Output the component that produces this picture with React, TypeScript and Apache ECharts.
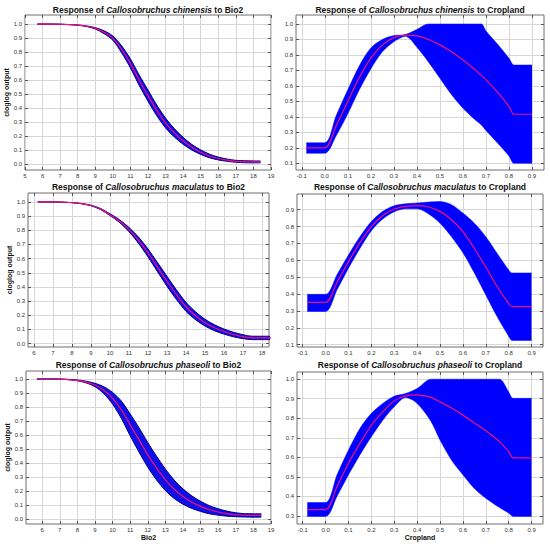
import React, { useEffect, useRef } from "react";
import * as echarts from "echarts";

// ---------- tick labels ----------
const bio2TicksA = [5, 6, 7, 8, 9, 10, 11, 12, 13, 14, 15, 16, 17, 18, 19];
const bio2TicksB = [6, 7, 8, 9, 10, 11, 12, 13, 14, 15, 16, 17, 18, 19];
const bio2TicksC = [6, 7, 8, 9, 10, 11, 12, 13, 14, 15, 16, 17, 18, 19];
const cropTicks = [-0.1, 0.0, 0.1, 0.2, 0.3, 0.4, 0.5, 0.6, 0.7, 0.8, 0.9];
const yTicksFull = [0.0, 0.1, 0.2, 0.3, 0.4, 0.5, 0.6, 0.7, 0.8, 0.9, 1.0];
const yTicksChinCrop = [0.1, 0.2, 0.3, 0.4, 0.5, 0.6, 0.7, 0.8, 0.9, 1.0];
const yTicksMacCrop = [0.1, 0.2, 0.3, 0.4, 0.5, 0.6, 0.7, 0.8, 0.9];
const yTicksPhaCrop = [0.3, 0.4, 0.5, 0.6, 0.7, 0.8, 0.9, 1.0];

// ---------- species / variables ----------
const species = ["Callosobruchus chinensis", "Callosobruchus maculatus", "Callosobruchus phaseoli"];
const variables = ["Bio2", "Cropland"];

// ---------- C. chinensis, Bio2 ----------
const chinBio2X = [5.7, 6, 6.5, 7, 7.5, 8, 8.5, 9, 9.5, 10, 10.5, 11, 11.5, 12, 12.5, 13, 13.5, 14, 14.5, 15, 15.5, 16, 16.5, 17, 17.5, 18, 18.4];
const chinBio2Mean = [1.0, 1.0, 1.0, 0.999, 0.997, 0.993, 0.985, 0.97, 0.942, 0.9, 0.82, 0.72, 0.6, 0.49, 0.385, 0.295, 0.225, 0.168, 0.122, 0.087, 0.06, 0.042, 0.03, 0.022, 0.019, 0.018, 0.018];
const chinBio2Low = [1.0, 1.0, 1.0, 0.999, 0.997, 0.992, 0.983, 0.965, 0.932, 0.885, 0.795, 0.688, 0.563, 0.45, 0.347, 0.26, 0.195, 0.143, 0.102, 0.071, 0.047, 0.032, 0.022, 0.015, 0.012, 0.011, 0.011];
const chinBio2Up = [1.0, 1.0, 1.0, 0.999, 0.997, 0.994, 0.987, 0.975, 0.952, 0.915, 0.845, 0.752, 0.637, 0.53, 0.423, 0.33, 0.255, 0.193, 0.142, 0.103, 0.073, 0.052, 0.038, 0.029, 0.026, 0.025, 0.025];

// ---------- C. chinensis, Cropland ----------
const chinCropX = [-0.08, 0, 0.05, 0.1, 0.15, 0.2, 0.25, 0.3, 0.35, 0.4, 0.45, 0.5, 0.55, 0.6, 0.65, 0.68, 0.7, 0.75, 0.8, 0.822, 0.9];
const chinCropMean = [0.2, 0.2, 0.345, 0.5, 0.655, 0.78, 0.865, 0.912, 0.928, 0.923, 0.9, 0.865, 0.82, 0.768, 0.708, 0.668, 0.639, 0.56, 0.468, 0.417, 0.417];
const chinCropLow = [0.165, 0.165, 0.28, 0.42, 0.575, 0.71, 0.82, 0.885, 0.92, 0.85, 0.755, 0.65, 0.545, 0.456, 0.385, 0.348, 0.312, 0.232, 0.148, 0.1, 0.1];
const chinCropUp = [0.233, 0.233, 0.41, 0.575, 0.73, 0.845, 0.9, 0.925, 0.932, 0.965, 1.0, 1.0, 1.0, 1.0, 1.0, 1.0, 0.955, 0.87, 0.778, 0.735, 0.735];

// ---------- C. maculatus, Bio2 ----------
const macBio2X = [6.2, 6.5, 7, 7.5, 8, 8.5, 9, 9.5, 10, 10.5, 11, 11.5, 12, 12.5, 13, 13.5, 14, 14.5, 15, 15.5, 16, 16.5, 17, 17.5, 18, 18.5];
const macBio2Mean = [1.0, 1.0, 1.0, 0.998, 0.995, 0.988, 0.975, 0.95, 0.91, 0.865, 0.805, 0.73, 0.64, 0.54, 0.44, 0.345, 0.26, 0.197, 0.148, 0.112, 0.085, 0.064, 0.049, 0.04, 0.04, 0.04];
const macBio2Low = [1.0, 1.0, 1.0, 0.998, 0.995, 0.987, 0.973, 0.946, 0.904, 0.855, 0.79, 0.708, 0.612, 0.508, 0.405, 0.311, 0.228, 0.169, 0.124, 0.091, 0.067, 0.048, 0.035, 0.028, 0.028, 0.028];
const macBio2Up = [1.0, 1.0, 1.0, 0.998, 0.995, 0.989, 0.977, 0.954, 0.916, 0.875, 0.82, 0.752, 0.668, 0.572, 0.475, 0.379, 0.292, 0.225, 0.172, 0.133, 0.103, 0.08, 0.063, 0.052, 0.052, 0.052];

// ---------- C. maculatus, Cropland ----------
const macCropX = [-0.08, 0, 0.05, 0.1, 0.15, 0.2, 0.25, 0.3, 0.35, 0.4, 0.45, 0.5, 0.55, 0.6, 0.65, 0.7, 0.75, 0.8, 0.815, 0.9];
const macCropMean = [0.35, 0.35, 0.47, 0.592, 0.705, 0.8, 0.865, 0.904, 0.92, 0.924, 0.916, 0.89, 0.84, 0.77, 0.67, 0.56, 0.443, 0.344, 0.325, 0.325];
const macCropLow = [0.297, 0.297, 0.425, 0.553, 0.67, 0.775, 0.845, 0.888, 0.905, 0.905, 0.875, 0.82, 0.74, 0.645, 0.525, 0.395, 0.265, 0.15, 0.125, 0.125];
const macCropUp = [0.398, 0.398, 0.515, 0.632, 0.74, 0.83, 0.89, 0.924, 0.935, 0.94, 0.945, 0.948, 0.93, 0.88, 0.82, 0.74, 0.64, 0.543, 0.525, 0.525];

// ---------- C. phaseoli, Bio2 ----------
const phaBio2X = [5.7, 6, 6.5, 7, 7.5, 8, 8.5, 9, 9.5, 10, 10.5, 11, 11.5, 12, 12.5, 13, 13.5, 14, 14.5, 15, 15.5, 16, 16.5, 17, 17.5, 18, 18.45];
const phaBio2Mean = [1.0, 1.0, 1.0, 0.999, 0.996, 0.99, 0.978, 0.957, 0.92, 0.862, 0.78, 0.672, 0.565, 0.458, 0.363, 0.28, 0.212, 0.16, 0.12, 0.09, 0.066, 0.05, 0.038, 0.03, 0.026, 0.025, 0.025];
const phaBio2Low = [1.0, 1.0, 1.0, 0.999, 0.995, 0.987, 0.972, 0.945, 0.895, 0.82, 0.718, 0.594, 0.478, 0.37, 0.278, 0.203, 0.146, 0.105, 0.075, 0.054, 0.037, 0.027, 0.02, 0.016, 0.014, 0.013, 0.013];
const phaBio2Up = [1.0, 1.0, 1.0, 0.999, 0.997, 0.993, 0.984, 0.969, 0.945, 0.904, 0.842, 0.75, 0.652, 0.546, 0.448, 0.357, 0.278, 0.215, 0.165, 0.126, 0.095, 0.073, 0.056, 0.044, 0.038, 0.037, 0.037];

// ---------- C. phaseoli, Cropland ----------
const phaCropX = [-0.08, 0, 0.05, 0.1, 0.15, 0.2, 0.25, 0.3, 0.35, 0.4, 0.46, 0.5, 0.55, 0.6, 0.65, 0.7, 0.76, 0.8, 0.82, 0.9];
const phaCropMean = [0.332, 0.332, 0.45, 0.569, 0.671, 0.765, 0.833, 0.889, 0.915, 0.92, 0.907, 0.884, 0.852, 0.816, 0.776, 0.736, 0.68, 0.629, 0.597, 0.597];
const phaCropLow = [0.297, 0.297, 0.4, 0.51, 0.612, 0.705, 0.79, 0.859, 0.906, 0.876, 0.785, 0.688, 0.586, 0.51, 0.44, 0.39, 0.342, 0.314, 0.297, 0.297];
const phaCropUp = [0.368, 0.368, 0.51, 0.637, 0.748, 0.825, 0.876, 0.913, 0.927, 0.952, 1.0, 1.0, 1.0, 1.0, 1.0, 1.0, 1.0, 0.935, 0.902, 0.902];

// ---------- panels (data references + layout) ----------
const panels = [
  { sp: 0, v: 0, x: chinBio2X, mean: chinBio2Mean, low: chinBio2Low, up: chinBio2Up, xt: bio2TicksA, yt: yTicksFull,
    box: [25, 15, 246, 155], xr: [5, 19], yr: [-0.04, 1.065] },
  { sp: 0, v: 1, x: chinCropX, mean: chinCropMean, low: chinCropLow, up: chinCropUp, xt: cropTicks, yt: yTicksChinCrop,
    box: [296, 15, 248, 155], xr: [-0.125, 0.952], yr: [0.057, 1.058] },
  { sp: 1, v: 0, x: macBio2X, mean: macBio2Mean, low: macBio2Low, up: macBio2Up, xt: bio2TicksB, yt: yTicksFull,
    box: [28, 193, 241, 154], xr: [5.685, 18.37], yr: [-0.024, 1.063] },
  { sp: 1, v: 1, x: macCropX, mean: macCropMean, low: macCropLow, up: macCropUp, xt: cropTicks, yt: yTicksMacCrop,
    box: [297, 194, 246, 153], xr: [-0.125, 0.95], yr: [0.086, 0.993] },
  { sp: 2, v: 0, x: phaBio2X, mean: phaBio2Mean, low: phaBio2Low, up: phaBio2Up, xt: bio2TicksC, yt: yTicksFull,
    box: [26, 371, 245, 153], xr: [5.08, 19], yr: [-0.036, 1.057] },
  { sp: 2, v: 1, x: phaCropX, mean: phaCropMean, low: phaCropLow, up: phaCropUp, xt: cropTicks, yt: yTicksPhaCrop,
    box: [297, 372, 246, 152], xr: [-0.125, 0.95], yr: [0.258, 1.037] },
];

const titleTops = [5, 182, 360];
const FONT = "'Liberation Sans', Arial, Helvetica, sans-serif";
const LINE_COLOR = "#f0107a";
const TICK_COLOR = "#555";

function buildOption() {
  const grid: any[] = [];
  const xAxis: any[] = [];
  const yAxis: any[] = [];
  const series: any[] = [];
  const title: any[] = [];
  const n = panels.length;

  panels.forEach((p, i) => {
    const [left, top, width, height] = p.box;
    const isBio = p.v === 0;
    const isBottom = p.sp === 2;
    grid.push({ left, top, width, height, show: true, borderColor: "#6e6e6e", borderWidth: 1, backgroundColor: "#fff" });

    title.push({
      text: `{a|Response of }{b|${species[p.sp]}}{a| to ${variables[p.v]}}`,
      left: left + width / 2,
      top: titleTops[p.sp],
      textAlign: "center",
      padding: 0,
      textStyle: {
        rich: {
          a: { fontSize: 8.5, fontWeight: "bold", fontFamily: FONT, color: "#111" },
          b: { fontSize: 8.5, fontWeight: "bold", fontStyle: "italic", fontFamily: FONT, color: "#111" },
        },
      },
    });

    const tickX = { show: true, inside: true, length: 3, customValues: p.xt, lineStyle: { color: TICK_COLOR } };
    const tickY = { show: true, inside: true, length: 3, customValues: p.yt, lineStyle: { color: TICK_COLOR } };

    xAxis[i] = {
      type: "value",
      gridIndex: i,
      position: "bottom",
      min: p.xr[0],
      max: p.xr[1],
      axisLine: { show: false, onZero: false },
      axisTick: tickX,
      axisLabel: {
        customValues: p.xt,
        fontSize: 6,
        fontFamily: FONT,
        color: "#333",
        margin: 3,
        formatter: (v: number) => (isBio ? String(Math.round(v)) : v.toFixed(1)),
      },
      splitLine: { show: true, lineStyle: { color: "#d6d6d6", width: 1 } },
      name: isBottom ? variables[p.v] : "",
      nameLocation: "middle",
      nameGap: 10,
      nameTextStyle: { fontSize: 7, fontWeight: "bold", fontFamily: FONT, color: "#111" },
    };
    // top frame ticks
    xAxis[n + i] = {
      type: "value",
      gridIndex: i,
      position: "top",
      min: p.xr[0],
      max: p.xr[1],
      axisLine: { show: false, onZero: false },
      axisTick: tickX,
      axisLabel: { show: false },
      splitLine: { show: false },
    };

    yAxis[i] = {
      type: "value",
      gridIndex: i,
      position: "left",
      min: p.yr[0],
      max: p.yr[1],
      axisLine: { show: false, onZero: false },
      axisTick: tickY,
      axisLabel: {
        customValues: p.yt,
        fontSize: 6,
        fontFamily: FONT,
        color: "#333",
        margin: 3,
        formatter: (v: number) => v.toFixed(1),
      },
      splitLine: { show: true, lineStyle: { color: "#d6d6d6", width: 1 } },
      name: isBio ? "cloglog output" : "",
      nameLocation: "middle",
      nameGap: 9,
      nameTextStyle: { fontSize: 7, fontWeight: "bold", fontFamily: FONT, color: "#111" },
    };
    // right frame ticks
    yAxis[n + i] = {
      type: "value",
      gridIndex: i,
      position: "right",
      min: p.yr[0],
      max: p.yr[1],
      axisLine: { show: false, onZero: false },
      axisTick: tickY,
      axisLabel: { show: false },
      splitLine: { show: false },
    };

    const edge = isBio ? "#000090" : "#0000ff";
    const fill = isBio ? "#1010e6" : "#0000ff";
    const edgeW = isBio ? 1 : 0.5;
    const stack = "band" + i;
    // data columns are [y, x] so that the y value is the stacked dimension
    series.push({
      type: "line",
      xAxisIndex: i,
      yAxisIndex: i,
      stack,
      encode: { x: 1, y: 0 },
      symbol: "none",
      smooth: 0.3,
      lineStyle: { color: edge, width: edgeW },
      data: p.x.map((xv, k) => [p.low[k], xv]),
      z: 2,
    });
    series.push({
      type: "line",
      xAxisIndex: i,
      yAxisIndex: i,
      stack,
      encode: { x: 1, y: 0 },
      symbol: "none",
      smooth: 0.3,
      lineStyle: { color: edge, width: edgeW },
      areaStyle: { color: fill, opacity: 1 },
      data: p.x.map((xv, k) => [p.up[k] - p.low[k], xv]),
      z: 2,
    });
    series.push({
      type: "line",
      xAxisIndex: i,
      yAxisIndex: i,
      symbol: "none",
      smooth: 0.3,
      lineStyle: { color: LINE_COLOR, width: 1.2 },
      data: p.x.map((xv, k) => [xv, p.mean[k]]),
      z: 4,
    });
  });

  return {
    animation: false,
    backgroundColor: "#ffffff",
    title,
    grid,
    xAxis,
    yAxis,
    series,
  };
}

export default function App() {
  const ref = useRef<HTMLDivElement>(null);
  useEffect(() => {
    document.body.style.margin = "0";
    if (!ref.current) return;
    const chart = echarts.init(ref.current, null, { renderer: "svg" });
    chart.setOption(buildOption() as any);
    return () => chart.dispose();
  }, []);
  return <div ref={ref} style={{ width: 550, height: 548 }} />;
}
